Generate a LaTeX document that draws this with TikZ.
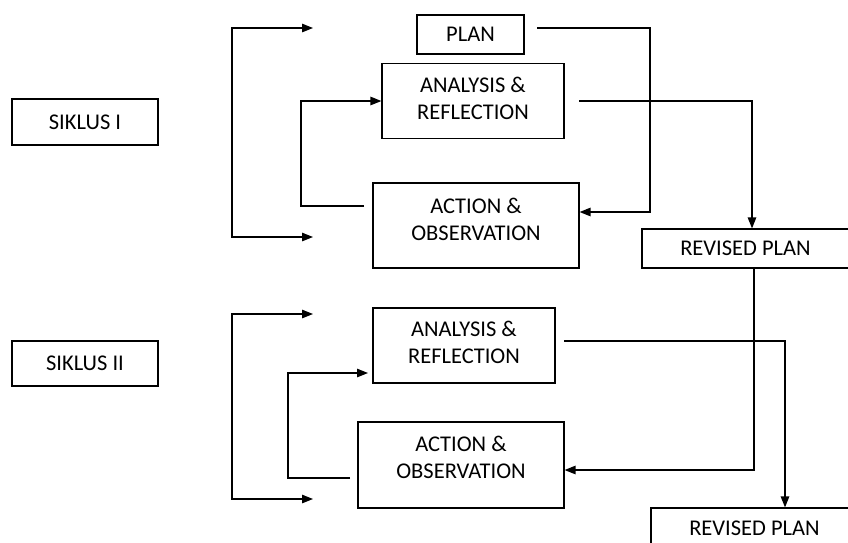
\documentclass[tikz,border=0pt]{standalone}
\usepackage{fontspec}
\setmainfont{Carlito}
\usetikzlibrary{arrows.meta}

\begin{document}
\begin{tikzpicture}[x=0.02cm,y=-0.02cm,line width=0.7pt,
    >={Triangle[length=2.2mm,width=1.7mm]},
    box/.style={draw,align=center,inner sep=0pt,font=\fontsize{12.8}{15.4}\selectfont}]
    \clip (0,0) rectangle (848,542);
    \node[box,minimum width=2.92cm,minimum height=0.92cm] (siklusI) at (85,122) {SIKLUS I};
    \node[box,minimum width=2.92cm,minimum height=0.9cm] (siklusII) at (85,363.5) {SIKLUS II};
    \node[box,minimum width=2.14cm,minimum height=0.78cm] (plan) at (470.5,34.5) {PLAN};
    \node[box,minimum width=3.64cm,minimum height=1.5cm,text depth=2.8pt] (reflI) at (473,101) {ANALYSIS \&\\REFLECTION};
    \node[box,minimum width=4.12cm,minimum height=1.7cm,text depth=7.4pt] (actI) at (476,225.5) {ACTION \&\\OBSERVATION};
    \node[box,minimum width=4.14cm,minimum height=0.78cm] (revI) at (745.5,248.5) {REVISED PLAN};
    \node[box,minimum width=3.64cm,minimum height=1.5cm,text depth=4pt] (reflII) at (464,345.5) {ANALYSIS \&\\REFLECTION};
    \node[box,minimum width=4.12cm,minimum height=1.72cm,text depth=9pt] (actII) at (461,465) {ACTION \&\\OBSERVATION};
    \node[box,minimum width=4.14cm,minimum height=0.8cm] (revII) at (754.5,528) {REVISED PLAN};
    \coordinate (topI) at (313,28);
    \coordinate (botI) at (313,237);
    \coordinate (topII) at (313,314);
    \coordinate (botII) at (313,499);
    \draw[<->] (topI) -- (232,28) -- (232,237) -- (botI);
    \draw[<->] (topII) -- (232,314) -- (232,499) -- (botII);
    \draw[->] (364,206) -| (301,101) -- (reflI.west);
    \draw[->] (350,478) -| (288,373) -- (368,373);
    \draw[->] (537,28) -| (650,212) -- (actI.east |- 650,212);
    \draw[->] (579,101) -| (revI.north -| 752,0);
    \draw[->] (revI.south -| 754,0) |- (actII.east |- 754,470);
    \draw[->] (564,341) -| (revII.north -| 785,0);
\end{tikzpicture}
\end{document}
